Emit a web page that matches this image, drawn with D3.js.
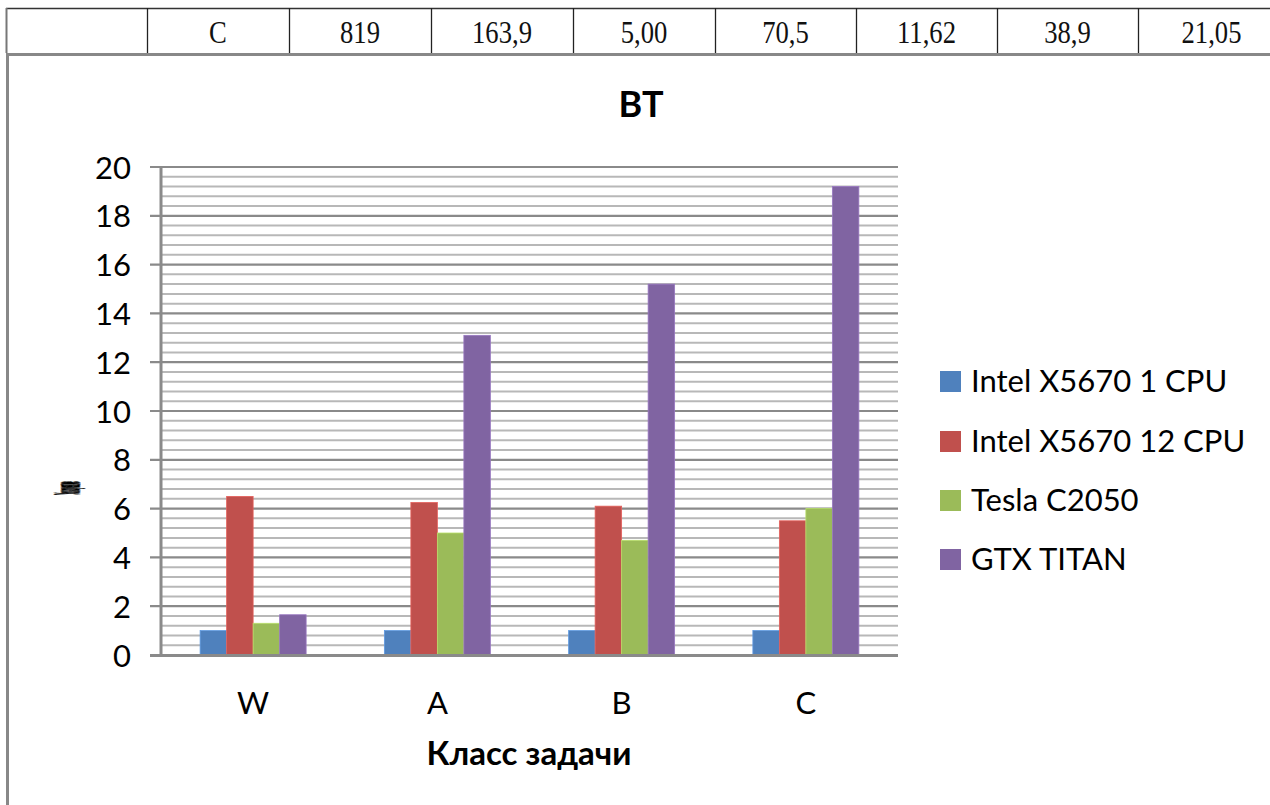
<!DOCTYPE html>
<html><head><meta charset="utf-8">
<script src="https://cdn.jsdelivr.net/npm/d3@7"></script>
<style>body{margin:0;background:#fff}svg{display:block}</style>
</head><body>
<svg id="c" width="1270" height="805"></svg>
<script>
const categories = ["W", "A", "B", "C"];
const seriesNames = ["Intel X5670 1 CPU", "Intel X5670 12 CPU", "Tesla C2050", "GTX TITAN"];
const intel1 = [1, 1, 1, 1];
const intel12 = [6.5, 6.25, 6.1, 5.5];
const tesla = [1.3, 5.0, 4.7, 6.0];
const titan = [1.65, 13.1, 15.2, 19.2];
const seriesColors = ["#4f81bd", "#c0504d", "#9bbb59", "#8064a2"];
const yTicks = [0, 2, 4, 6, 8, 10, 12, 14, 16, 18, 20];
const tableRow = ["", "C", "819", "163,9", "5,00", "70,5", "11,62", "38,9", "21,05"];
const chartTitle = "BT";
const xTitle = "Класс задачи";
const yTitle = "Ускорение";

const series = [intel1, intel12, tesla, titan];
const svg = d3.select("#c");
const font = "Lato, 'Open Sans', sans-serif";

// ---- table row at top ----
const colEdges = [6, 147, 289, 431, 573, 715, 856, 997, 1138, 1285];
const tg = svg.append("g");
tg.append("line").attr("x1", 6).attr("x2", 1270).attr("y1", 8.5).attr("y2", 8.5).attr("stroke", "#333").attr("stroke-width", 1.5);
colEdges.slice(0, -1).forEach((x, i) => {
  tg.append("line").attr("x1", x + 0.5).attr("x2", x + 0.5).attr("y1", 8).attr("y2", 53)
    .attr("stroke", i === 0 ? "#777" : "#222").attr("stroke-width", i === 0 ? 2 : 1.3);
  tg.append("text").attr("transform", `translate(${(x + colEdges[i + 1]) / 2},43) scale(0.86,1)`)
    .attr("text-anchor", "middle").attr("font-family", "'Liberation Serif', serif")
    .attr("font-size", 31).attr("fill", "#111").text(tableRow[i]);
});
// chart frame
tg.append("line").attr("x1", 6).attr("x2", 1270).attr("y1", 54.5).attr("y2", 54.5).attr("stroke", "#888").attr("stroke-width", 3);
tg.append("line").attr("x1", 7.5).attr("x2", 7.5).attr("y1", 54).attr("y2", 805).attr("stroke", "#888").attr("stroke-width", 3);

// ---- scales ----
const x = d3.scaleBand().domain(categories).range([161, 898]).padding(0);
const groupW = 106;
const xs = d3.scaleBand().domain(seriesNames).range([0, groupW]).padding(0);
const y = d3.scaleLinear().domain([0, 20]).range([655, 167]);

// minor grid
const minor = d3.range(0, 50).map(i => i * 0.4).filter(v => Math.abs(v / 2 - Math.round(v / 2)) > 1e-6);
svg.append("g").selectAll("line").data(minor).join("line")
  .attr("x1", 161).attr("x2", 898).attr("y1", d => y(d)).attr("y2", d => y(d))
  .attr("stroke", "#b8b8b8").attr("stroke-width", 2);
// major grid
svg.append("g").selectAll("line").data(yTicks).join("line")
  .attr("x1", 150).attr("x2", 898).attr("y1", d => y(d)).attr("y2", d => y(d))
  .attr("stroke", "#8a8a8a").attr("stroke-width", 2.2);

// bars
categories.forEach((c, ci) => {
  const off = x(c) + (x.bandwidth() - groupW) / 2;
  series.forEach((s, si) => {
    svg.append("rect")
      .attr("x", off + xs(seriesNames[si])).attr("width", xs.bandwidth())
      .attr("y", y(s[ci])).attr("height", y(0) - y(s[ci]))
      .attr("fill", seriesColors[si])
      .attr("stroke", d3.color(seriesColors[si]).brighter(0.5)).attr("stroke-width", 0.8);
  });
});

// axes lines
svg.append("line").attr("x1", 161).attr("x2", 161).attr("y1", 166).attr("y2", 656).attr("stroke", "#8a8a8a").attr("stroke-width", 3);
svg.append("line").attr("x1", 150).attr("x2", 898).attr("y1", 655.5).attr("y2", 655.5).attr("stroke", "#8a8a8a").attr("stroke-width", 3);

// y tick labels
const yAxis = d3.axisLeft(y).tickValues(yTicks).tickSize(0).tickPadding(0);
const ya = svg.append("g").attr("transform", "translate(131,0)").call(yAxis);
ya.select(".domain").remove();
ya.selectAll("text").attr("font-family", font).attr("font-size", 31).attr("fill", "#000").attr("dy", "0.36em");

// x tick labels
const xAxis = d3.axisBottom(x).tickSize(0).tickPadding(0);
const xa = svg.append("g").attr("transform", "translate(0,692)").call(xAxis);
xa.select(".domain").remove();
xa.selectAll("text").attr("font-family", font).attr("font-size", 31).attr("fill", "#000").attr("dy", "0.72em");

// titles
svg.append("text").attr("x", 641).attr("y", 117).attr("text-anchor", "middle")
  .attr("font-family", font).attr("font-weight", "bold").attr("font-size", 36).text(chartTitle);
svg.append("text").attr("x", 529).attr("y", 765).attr("text-anchor", "middle")
  .attr("font-family", font).attr("font-weight", "bold").attr("font-size", 33).text(xTitle);
svg.append("text").attr("transform", "translate(79,488) rotate(-90)").attr("text-anchor", "middle")
  .attr("font-family", font).attr("font-weight", "900").attr("font-size", 32)
  .attr("stroke", "#000").attr("stroke-width", 3).attr("stroke-linejoin", "round")
  .attr("textLength", 13).attr("lengthAdjust", "spacingAndGlyphs").text(yTitle);

// legend
const legY = [381, 441, 500, 559];
const lg = svg.append("g").selectAll("g").data(seriesNames).join("g")
  .attr("transform", (d, i) => `translate(940,${legY[i]})`);
lg.append("rect").attr("x", 0).attr("y", -10).attr("width", 21).attr("height", 21).attr("fill", (d, i) => seriesColors[i]);
lg.append("text").attr("x", 31).attr("y", 0).attr("dy", "0.36em")
  .attr("font-family", font).attr("font-size", 31).text(d => d);
</script>
</body></html>
